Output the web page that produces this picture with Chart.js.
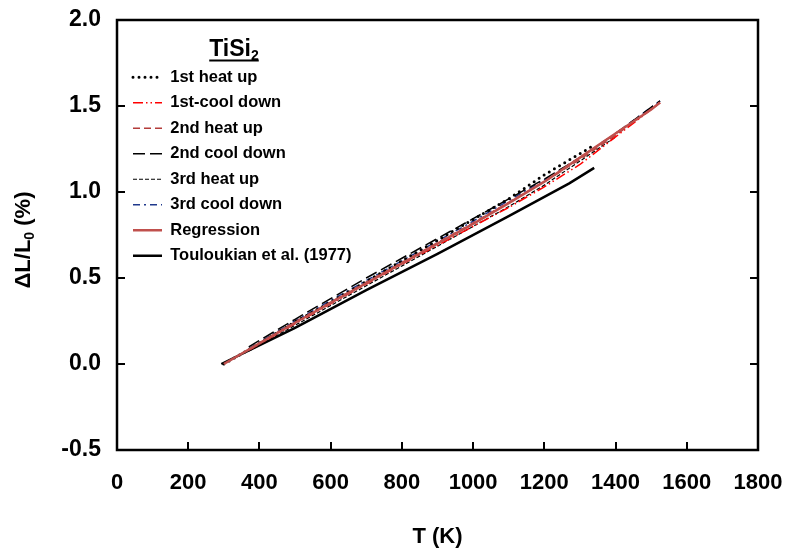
<!DOCTYPE html>
<html>
<head>
<meta charset="utf-8">
<script src="https://cdn.jsdelivr.net/npm/chart.js@4/dist/chart.umd.min.js"></script>
<style>
  html, body { margin: 0; padding: 0; background: #fff; }
</style>
</head>
<body>
<canvas id="c" width="791" height="556"></canvas>
<script>
// axis ticks
const xTicks = [0, 200, 400, 600, 800, 1000, 1200, 1400, 1600, 1800];
const yTicks = [-0.5, 0, 0.5, 1.0, 1.5, 2.0];

// temperatures (K)
const heat1T = [300, 400, 500, 600, 700, 800, 900, 1000, 1100, 1200, 1330];
const measT = [370, 500, 600, 700, 800, 900, 1000, 1100, 1200, 1300, 1400, 1525];
const heat3T = [370, 500, 600, 700, 800, 900, 1000, 1100, 1200, 1300, 1400];
const regT = [300, 400, 500, 600, 700, 800, 900, 1000, 1100, 1200, 1300, 1400, 1500, 1525];
const touT = [293, 500, 700, 900, 1100, 1270, 1340];

// dL/L0 (%)
const heat1 = [0.00, 0.12, 0.245, 0.36, 0.48, 0.60, 0.72, 0.84, 0.96, 1.10, 1.26];
const cool1 = [0.08, 0.235, 0.35, 0.465, 0.58, 0.69, 0.80, 0.91, 1.03, 1.16, 1.32, 1.52];
const heat2 = [0.085, 0.245, 0.36, 0.475, 0.59, 0.705, 0.82, 0.94, 1.06, 1.19, 1.33, 1.52];
const cool2 = [0.10, 0.26, 0.38, 0.50, 0.615, 0.73, 0.845, 0.96, 1.075, 1.20, 1.34, 1.53];
const heat3 = [0.075, 0.225, 0.34, 0.455, 0.57, 0.685, 0.80, 0.915, 1.04, 1.18, 1.32];
const cool3 = [0.09, 0.25, 0.37, 0.485, 0.60, 0.715, 0.83, 0.95, 1.07, 1.20, 1.34, 1.53];
const reg = [0.00, 0.12, 0.24, 0.355, 0.47, 0.585, 0.70, 0.815, 0.935, 1.06, 1.20, 1.34, 1.48, 1.52];
const tou = [0.00, 0.21, 0.43, 0.64, 0.86, 1.05, 1.14];

function pts(xs, ys) {
    return xs.map((t, i) => ({ x: t, y: ys[i] }));
}

const FONT = '"Liberation Sans", Arial, sans-serif';
Chart.defaults.font.family = FONT;
Chart.defaults.font.weight = 'bold';
Chart.defaults.color = '#000';

// box frame, inward ticks, legend heading and y title
const framePlugin = {
    id: 'frame',
    afterLayout(chart) {
        // put the legend block where it sits in the original
        const l = chart.legend;
        const dx = 124 - l.left;
        const dy = 60 - l.top;
        l.left += dx; l.right += dx;
        l.top += dy; l.bottom += dy;
    },
    afterDraw(chart) {
        const ctx = chart.ctx;
        const a = chart.chartArea;
        const x = chart.scales.x;
        const y = chart.scales.y;
        ctx.save();
        ctx.strokeStyle = '#000';
        ctx.lineWidth = 2.5;
        ctx.strokeRect(a.left, a.top, a.right - a.left, a.bottom - a.top);

        ctx.lineWidth = 2;
        ctx.beginPath();
        xTicks.forEach(v => {
            const px = Math.round(x.getPixelForValue(v));
            ctx.moveTo(px, a.bottom);
            ctx.lineTo(px, a.bottom - 8);
        });
        yTicks.forEach(v => {
            const py = Math.round(y.getPixelForValue(v));
            ctx.moveTo(a.left, py);
            ctx.lineTo(a.left + 8, py);
            ctx.moveTo(a.right, py);
            ctx.lineTo(a.right - 8, py);
        });
        ctx.stroke();

        // legend heading TiSi2 (underlined)
        ctx.fillStyle = '#000';
        ctx.textBaseline = 'alphabetic';
        ctx.textAlign = 'left';
        ctx.font = 'bold 23px ' + FONT;
        const w1 = ctx.measureText('TiSi').width;
        ctx.font = 'bold 14px ' + FONT;
        const w2 = ctx.measureText('2').width;
        const hx = 234 - (w1 + w2) / 2;
        const hy = 56;
        ctx.font = 'bold 23px ' + FONT;
        ctx.fillText('TiSi', hx, hy);
        ctx.font = 'bold 14px ' + FONT;
        ctx.fillText('2', hx + w1, hy + 4);
        ctx.lineWidth = 2;
        ctx.beginPath();
        ctx.moveTo(hx, hy + 4.5);
        ctx.lineTo(hx + w1 + w2, hy + 4.5);
        ctx.stroke();

        // y axis title with subscript
        ctx.translate(24, 240);
        ctx.rotate(-Math.PI / 2);
        ctx.font = 'bold 22px ' + FONT;
        const p1 = '\u0394L/L';
        const p3 = ' (%)';
        const a1 = ctx.measureText(p1).width;
        const a3 = ctx.measureText(p3).width;
        ctx.font = 'bold 14px ' + FONT;
        const a2 = ctx.measureText('0').width;
        let sx = -(a1 + a2 + a3) / 2;
        ctx.textBaseline = 'middle';
        ctx.font = 'bold 22px ' + FONT;
        ctx.fillText(p1, sx, 0);
        ctx.font = 'bold 14px ' + FONT;
        ctx.fillText('0', sx + a1, 6);
        ctx.font = 'bold 22px ' + FONT;
        ctx.fillText(p3, sx + a1 + a2, 0);
        ctx.restore();
    }
};

new Chart(document.getElementById('c'), {
    type: 'line',
    data: {
        datasets: [
            {
                label: '1st heat up',
                data: pts(heat1T, heat1),
                borderColor: '#000',
                borderWidth: 3,
                borderDash: [0, 6],
                borderCapStyle: 'round'
            },
            {
                label: '1st-cool down',
                data: pts(measT, cool1),
                borderColor: '#ff0000',
                borderWidth: 1.5,
                borderDash: [10, 3, 1.5, 3, 1.5, 3]
            },
            {
                label: '2nd heat up',
                data: pts(measT, heat2),
                borderColor: 'rgb(180, 60, 58)',
                borderWidth: 1.6,
                borderDash: [7, 4]
            },
            {
                label: '2nd cool down',
                data: pts(measT, cool2),
                borderColor: '#000',
                borderWidth: 1.5,
                borderDash: [12, 5]
            },
            {
                label: '3rd heat up',
                data: pts(heat3T, heat3),
                borderColor: '#000',
                borderWidth: 1.2,
                borderDash: [4, 2]
            },
            {
                label: '3rd cool down',
                data: pts(measT, cool3),
                borderColor: 'rgb(31, 56, 140)',
                borderWidth: 1.5,
                borderDash: [7, 4, 2, 4]
            },
            {
                label: 'Regression',
                data: pts(regT, reg),
                borderColor: 'rgb(192, 80, 77)',
                borderWidth: 2.5,
                order: -1
            },
            {
                label: 'Touloukian et al. (1977)',
                data: pts(touT, tou),
                borderColor: '#000',
                borderWidth: 2.5
            }
        ]
    },
    options: {
        responsive: false,
        animation: false,
        layout: {
            padding: { left: 0, right: 33, top: 20, bottom: 0 }
        },
        elements: {
            point: { radius: 0 },
            line: { tension: 0, fill: false }
        },
        scales: {
            x: {
                type: 'linear',
                min: 0,
                max: 1800,
                afterBuildTicks: s => { s.ticks = xTicks.map(v => ({ value: v })); },
                ticks: {
                    font: { size: 22, weight: 'bold' },
                    padding: 20,
                    maxRotation: 0,
                    callback: v => String(v)
                },
                grid: { display: false, drawTicks: false },
                border: { display: false },
                title: {
                    display: true,
                    text: 'T (K)',
                    font: { size: 22, weight: 'bold' },
                    padding: { top: 0, bottom: 6 }
                },
                afterFit: s => {
                    s.height = 106;
                    s.paddingLeft = 0;
                    s.paddingRight = 0;
                }
            },
            y: {
                type: 'linear',
                min: -0.5,
                max: 2.0,
                afterBuildTicks: s => { s.ticks = yTicks.map(v => ({ value: v })); },
                ticks: {
                    font: { size: 23, weight: 'bold' },
                    padding: 16,
                    callback: v => v.toFixed(1)
                },
                grid: { display: false, drawTicks: false },
                border: { display: false },
                afterFit: s => {
                    s.width = 117;
                    s.paddingTop = 0;
                    s.paddingBottom = 0;
                }
            }
        },
        plugins: {
            tooltip: { enabled: false },
            legend: {
                position: 'chartArea',
                align: 'start',
                labels: {
                    usePointStyle: true,
                    pointStyle: 'line',
                    pointStyleWidth: 29,
                    boxHeight: 17,
                    padding: 9,
                    color: '#000',
                    font: { size: 16.5, weight: 'bold' },
                    generateLabels: chart => chart.data.datasets.map((ds, i) => ({
                        text: ds.label,
                        datasetIndex: i,
                        strokeStyle: ds.borderColor,
                        fillStyle: ds.borderColor,
                        lineWidth: ds.borderWidth,
                        lineDash: ds.borderDash || [],
                        lineCap: ds.borderCapStyle || 'butt',
                        pointStyle: 'line',
                        hidden: false,
                        fontColor: '#000'
                    }))
                }
            }
        }
    },
    plugins: [framePlugin]
});
</script>
</body>
</html>
